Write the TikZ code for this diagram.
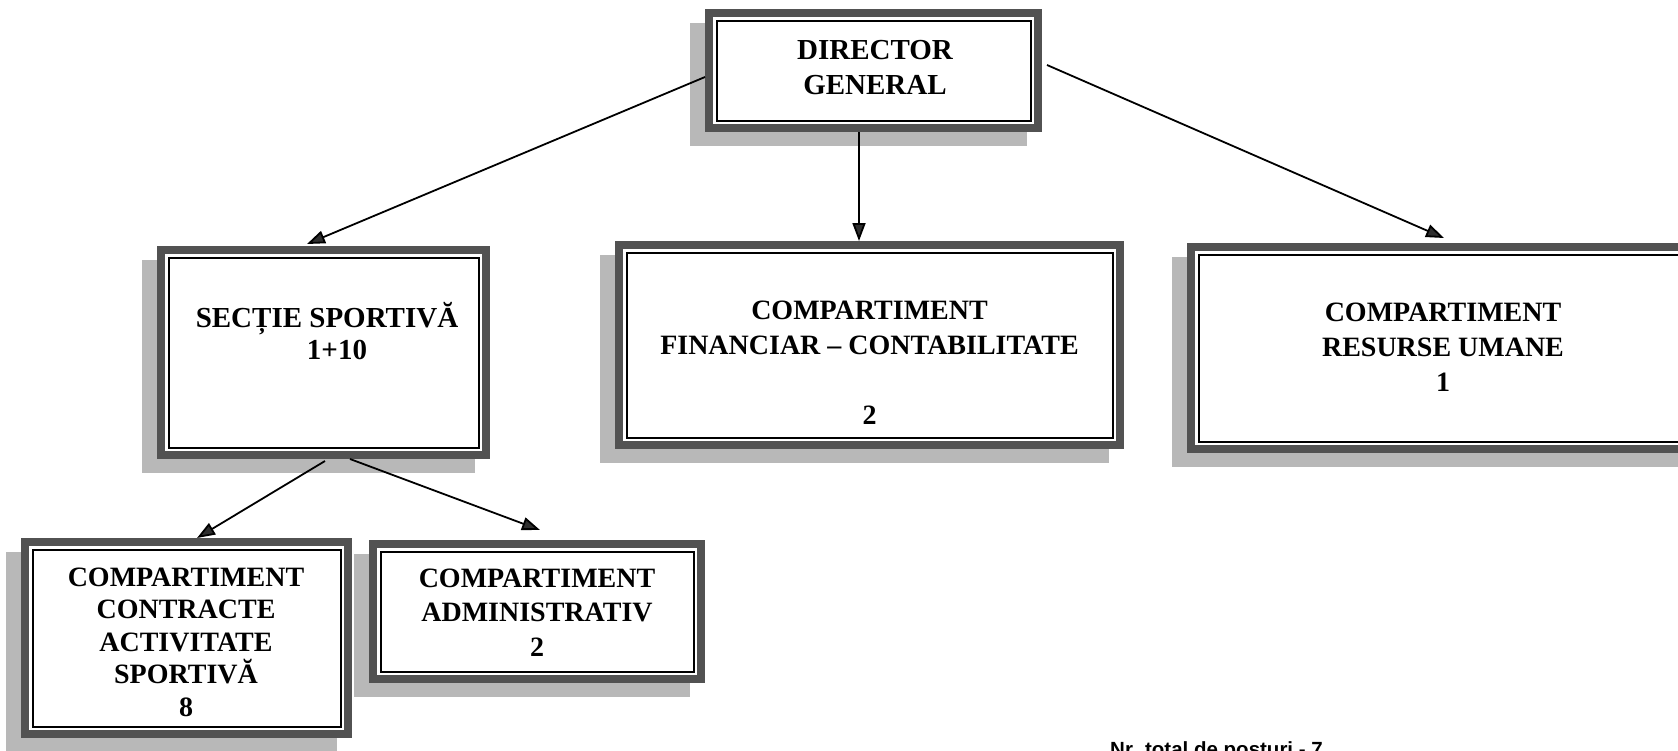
\documentclass[tikz,border=0pt]{standalone}
\usepackage{fontspec}
\setmainfont{Liberation Serif}
\setsansfont{Liberation Sans}
\usetikzlibrary{arrows.meta}
\definecolor{framegray}{gray}{0.32}
\definecolor{shadowgray}{gray}{0.72}
\definecolor{tipgray}{gray}{0.18}
\tikzset{
  orgbox/.style={draw=framegray, line width=8pt, fill=white, inner sep=0pt,
    preaction={draw=shadowgray, fill=shadowgray, line width=8pt,
      transform canvas={shift={(-15pt,-14pt)}}},
    path picture={\draw[black,line width=2pt]
      ([shift={(7.5pt,-7.5pt)}]path picture bounding box.north west) rectangle
      ([shift={(-7.5pt,7.5pt)}]path picture bounding box.south east);}},
  boxtext/.style={align=center, inner sep=0pt, font=\bfseries\fontsize{28}{35}\selectfont},
  arr/.style={line width=1.8pt, -{Triangle[length=18pt,width=13pt,fill=tipgray]}},
}
\begin{document}
\begin{tikzpicture}[x=1pt,y=-1pt]
\useasboundingbox (0,0) rectangle (1678,750);
\fill[white] (0,0) rectangle (1678,750);

% boxes
\node[orgbox, minimum width=329pt, minimum height=115pt] (dir) at (873.5,70.5) {};
\node[orgbox, minimum width=325pt, minimum height=205pt] (sec) at (323.5,352.5) {};
\node[orgbox, minimum width=501pt, minimum height=200pt] (fin) at (869.5,345) {};
\node[orgbox, minimum width=503pt, minimum height=202pt] (res) at (1442.5,348) {};
\node[orgbox, minimum width=323pt, minimum height=192pt] (cca) at (186.5,638) {};
\node[orgbox, minimum width=328pt, minimum height=135pt] (adm) at (537,611.5) {};

% texts
\node[boxtext, font=\bfseries\fontsize{29}{35}\selectfont] (dirtxt) at (875,68) {DIRECTOR\\GENERAL};
\node[boxtext, font=\bfseries\fontsize{29}{32}\selectfont] (sectxt) at (327,331) {SECȚIE SPORTIVĂ\\\hspace*{20pt}1+10};
\node[boxtext] (fintxt) at (869.5,362.5) {COMPARTIMENT\\FINANCIAR – CONTABILITATE\\[35pt]2};
\node[boxtext] (restxt) at (1443,347) {COMPARTIMENT\\RESURSE UMANE\\1};
\node[boxtext, font=\bfseries\fontsize{28}{32.5}\selectfont] (ccatxt) at (186,642) {COMPARTIMENT\\CONTRACTE\\ACTIVITATE\\SPORTIVĂ\\8};
\node[boxtext, font=\bfseries\fontsize{28}{34.5}\selectfont] (admtxt) at (537,612.5) {COMPARTIMENT\\ADMINISTRATIV\\2};

\node[anchor=base west, inner sep=0pt, font=\sffamily\bfseries\fontsize{20.5}{24}\selectfont] (total) at (1110,756) {Nr. total de posturi - 7};

% connectors
\draw[arr] ([yshift=-6.5pt]dir.west) -- ([xshift=150pt,yshift=2pt]sec.north west);
\draw[arr] ([xshift=-14.5pt]dir.south) -- ([xshift=-14.5pt]dir.south |- fin.north);
\draw[arr] ([xshift=5pt,yshift=5.5pt]dir.east) -- ([xshift=257pt,yshift=5pt]res.north west);
\draw[arr] ([xshift=168pt,yshift=-2pt]sec.south west) -- ([xshift=176pt]cca.north west);
\draw[arr] ([xshift=193pt]sec.south west) -- ([xshift=171pt,yshift=10pt]adm.north west);
\end{tikzpicture}
\end{document}
